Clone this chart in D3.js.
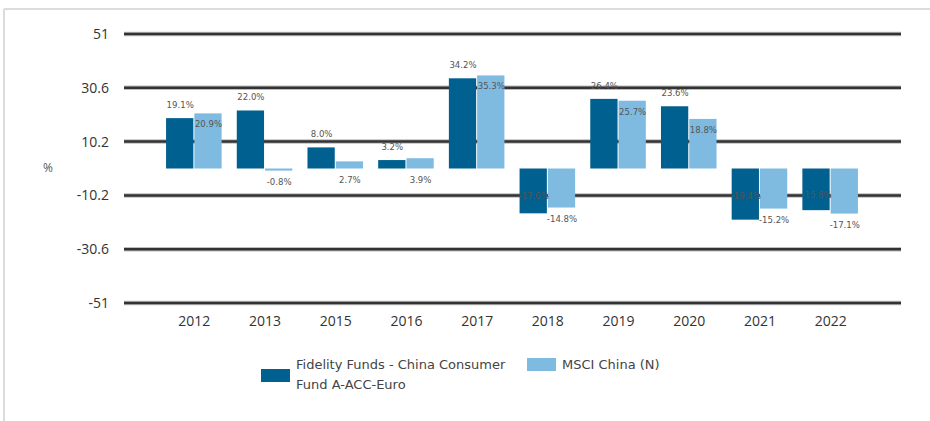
<!DOCTYPE html>
<html>
<head>
<meta charset="utf-8">
<script src="https://cdn.jsdelivr.net/npm/d3@7"></script>
<style>
  body { margin: 0; background: #fff; }
  svg { display: block; }
</style>
</head>
<body>
<script>
// data
var years = ["2012", "2013", "2015", "2016", "2017", "2018", "2019", "2020", "2021", "2022"];
var fundValues = [19.1, 22.0, 8.0, 3.2, 34.2, -17.0, 26.4, 23.6, -19.4, -15.8];
var indexValues = [20.9, -0.8, 2.7, 3.9, 35.3, -14.8, 25.7, 18.8, -15.2, -17.1];
var yTicks = [51, 30.6, 10.2, -10.2, -30.6, -51];
var seriesNames = ["Fidelity Funds - China Consumer Fund A-ACC-Euro", "MSCI China (N)"];

var W = 930, H = 421;
var dark = "#00608f", light = "#7fbbe1";

var svg = d3.select("body").append("svg")
  .attr("width", W)
  .attr("height", H);

// light frame
svg.append("line").attr("x1", 4).attr("x2", W).attr("y1", 9).attr("y2", 9)
  .attr("stroke", "#dcdcdc").attr("stroke-width", 2);
svg.append("line").attr("x1", 4).attr("x2", 4).attr("y1", 9).attr("y2", H)
  .attr("stroke", "#dcdcdc").attr("stroke-width", 2);

var y = d3.scaleLinear().domain([-51, 51]).range([303, 34]);
var x = d3.scaleBand().domain(years).range([159, 866]).paddingInner(0.2).paddingOuter(0.1);
var x1 = d3.scaleBand().domain([0, 1]).range([0, x.bandwidth()]);

// gridlines (soft halo + dark core)
var grid = svg.append("g");
grid.selectAll("line.halo")
  .data(yTicks).enter().append("line")
  .attr("class", "halo")
  .attr("x1", 124).attr("x2", 901)
  .attr("y1", d => y(d)).attr("y2", d => y(d))
  .attr("stroke", "#bdbdbd").attr("stroke-width", 4.5);
grid.selectAll("line.core")
  .data(yTicks).enter().append("line")
  .attr("class", "core")
  .attr("x1", 124).attr("x2", 901)
  .attr("y1", d => y(d)).attr("y2", d => y(d))
  .attr("stroke", "#333").attr("stroke-width", 2.5);

// y tick labels
svg.append("g").selectAll("text")
  .data(yTicks).enter().append("text")
  .attr("x", 109).attr("y", d => y(d) + 5)
  .attr("text-anchor", "end")
  .attr("font-family", "'Open Sans', sans-serif")
  .attr("font-size", 14)
  .attr("fill", "#333")
  .text(d => d);

svg.append("text")
  .attr("x", 48).attr("y", 172)
  .attr("text-anchor", "middle")
  .attr("font-family", "'Open Sans', sans-serif")
  .attr("font-size", 12)
  .attr("fill", "#555")
  .text("%");

// x labels
svg.append("g").selectAll("text")
  .data(years).enter().append("text")
  .attr("x", d => x(d) + x.bandwidth() / 2)
  .attr("y", 326)
  .attr("text-anchor", "middle")
  .attr("font-family", "'Open Sans', sans-serif")
  .attr("font-size", 14)
  .attr("fill", "#333")
  .text(d => d);

var rows = years.map((yr, i) => ({ year: yr, vals: [fundValues[i], indexValues[i]] }));

var groups = svg.append("g").selectAll("g")
  .data(rows).enter().append("g")
  .attr("transform", d => "translate(" + x(d.year) + ",0)");

groups.selectAll("rect")
  .data(d => d.vals).enter().append("rect")
  .attr("x", (d, i) => x1(i))
  .attr("width", x1.bandwidth() - 1)
  .attr("y", d => y(Math.max(0, d)))
  .attr("height", d => Math.abs(y(d) - y(0)))
  .attr("fill", (d, i) => i == 0 ? dark : light);

// value labels
function labelY(d, i) {
  if (i == 0) {
    return d >= 0 ? y(d) - 10 : Math.min(y(d) - 12, y(-10.2) + 4);
  }
  if (d > 10) return y(d) + 14;
  return Math.max(y(0), y(d)) + 14;
}

groups.selectAll("text")
  .data(d => d.vals).enter().append("text")
  .attr("x", (d, i) => x1(i) + x1.bandwidth() / 2)
  .attr("y", labelY)
  .attr("text-anchor", "middle")
  .attr("font-family", "'DejaVu Sans Condensed', 'DejaVu Sans', sans-serif")
  .attr("font-size", 9.5)
  .attr("fill", "#555")
  .text(d => d.toFixed(1) + "%");

// legend
var legend = svg.append("g").attr("font-family", "'DejaVu Sans', sans-serif")
  .attr("font-size", 13).attr("fill", "#444");

legend.append("rect").attr("x", 261).attr("y", 369).attr("width", 29).attr("height", 13).attr("fill", dark);
legend.append("text").attr("x", 296).attr("y", 369).text("Fidelity Funds - China Consumer");
legend.append("text").attr("x", 296).attr("y", 389).text("Fund A-ACC-Euro");

legend.append("rect").attr("x", 527).attr("y", 358).attr("width", 29).attr("height", 13).attr("fill", light);
legend.append("text").attr("x", 562).attr("y", 369).text(seriesNames[1]);
</script>
</body>
</html>
